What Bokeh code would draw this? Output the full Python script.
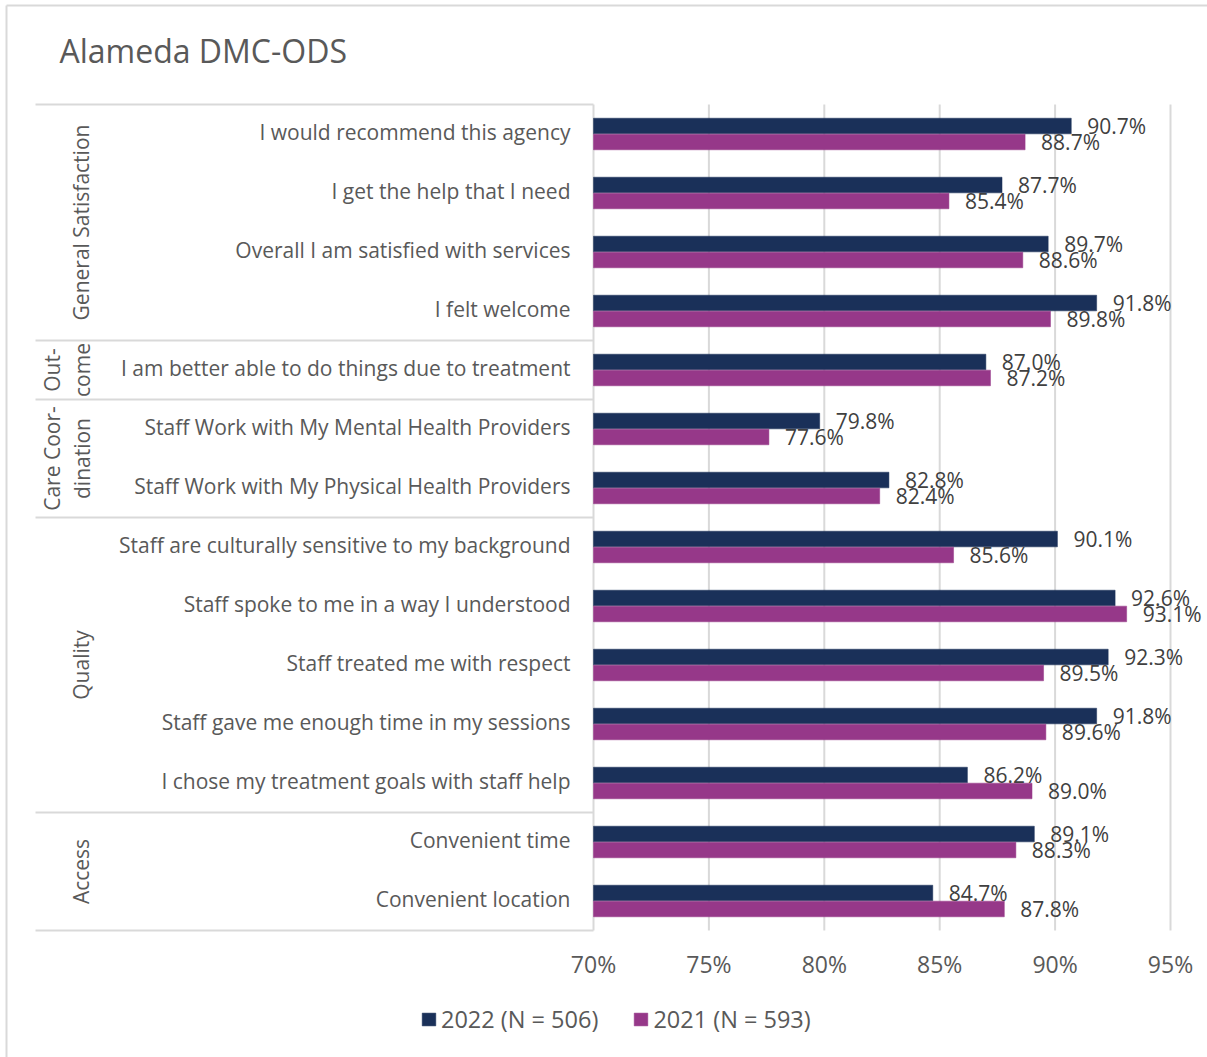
from math import pi
from bokeh.plotting import figure
from bokeh.models import ColumnDataSource, Range1d, Legend, LegendItem
from bokeh.core.properties import value
from bokeh.embed import file_html
from bokeh.resources import INLINE

# ---------------- data ----------------
TITLE = "Alameda DMC-ODS"
CATEGORIES = [
    "I would recommend this agency",
    "I get the help that I need",
    "Overall I am satisfied with services",
    "I felt welcome",
    "I am better able to do things due to treatment",
    "Staff Work with My Mental Health Providers",
    "Staff Work with My Physical Health Providers",
    "Staff are culturally sensitive to my background",
    "Staff spoke to me in a way I understood",
    "Staff treated me with respect",
    "Staff gave me enough time in my sessions",
    "I chose my treatment goals with staff help",
    "Convenient time",
    "Convenient location",
]
VALUES_2022 = [90.7, 87.7, 89.7, 91.8, 87.0, 79.8, 82.8, 90.1, 92.6, 92.3, 91.8, 86.2, 89.1, 84.7]
VALUES_2021 = [88.7, 85.4, 88.6, 89.8, 87.2, 77.6, 82.4, 85.6, 93.1, 89.5, 89.6, 89.0, 88.3, 87.8]
GROUP_LINES = [["General Satisfaction"], ["Out-", "come"], ["Care Coor-", "dination"], ["Quality"], ["Access"]]
GROUP_SIZES = [4, 1, 2, 5, 2]
SERIES_NAMES = ["2022 (N = 506)", "2021 (N = 593)"]
TICKS = [70, 75, 80, 85, 90, 95]

# ---------------- styling / layout ----------------
W, H = 1207, 1057
NAVY = "#1a3059"
MAGENTA = "#963889"
TEXT = "#595959"
LABEL_TEXT = "#404040"
LINE = "#d9d9d9"
FONT_NAME = "Open Sans"
FONT = value(FONT_NAME)

X0_PX, X1_PX = 593, 1170
XMIN, XMAX = TICKS[0], TICKS[-1]
XPP = (XMAX - XMIN) / (X1_PX - X0_PX)
TOP_PX, BOT_PX = 104, 930
N = len(CATEGORIES)
YPP = N / (BOT_PX - TOP_PX)


def px_x(px):
    return XMIN + (px - X0_PX) * XPP


def px_y(py):
    return N - (py - TOP_PX) * YPP


p = figure(width=W, height=H,
           x_range=Range1d(px_x(0), px_x(W)), y_range=Range1d(px_y(H), px_y(0)),
           output_backend="svg", toolbar_location=None,
           x_axis_location=None, y_axis_location=None, min_border=0,
           outline_line_color=None, background_fill_color="white",
           border_fill_color="white")
p.xgrid.visible = False
p.ygrid.visible = False

# outer border (top & left)
p.segment(x0=[px_x(6), px_x(6)], y0=[px_y(5), px_y(5)], x1=[px_x(W), px_x(6)], y1=[px_y(5), px_y(H)],
          line_color=LINE, line_width=2)

# title
p.text(x=[px_x(59)], y=[px_y(50)], text=[TITLE], text_font=FONT, text_font_size="32px",
       text_color=TEXT, text_align="left", text_baseline="middle")

# gridlines
grid_x = TICKS[1:]
p.segment(x0=grid_x, x1=grid_x, y0=[0] * len(grid_x), y1=[N] * len(grid_x),
          line_color=LINE, line_width=2)
# vertical axis line
p.segment(x0=[XMIN], x1=[XMIN], y0=[0], y1=[N], line_color=LINE, line_width=2)

# group separators and group labels
bounds = [N]
acc = N
for s in GROUP_SIZES:
    acc -= s
    bounds.append(acc)
p.segment(x0=[px_x(35)] * len(bounds), x1=[XMIN] * len(bounds), y0=bounds, y1=bounds,
          line_color=LINE, line_width=2)

gx, gy, gt = [], [], []
for lines, top, bot in zip(GROUP_LINES, bounds[:-1], bounds[1:]):
    mid = (top + bot) / 2
    if len(lines) == 1:
        xs = [80]
    else:
        xs = [51, 81]
    for ln, xp in zip(lines, xs):
        gx.append(px_x(xp))
        gy.append(mid)
        gt.append(ln)
p.text(x=gx, y=gy, text=gt, angle=pi / 2, text_font=FONT, text_font_size="21px",
       text_color=TEXT, text_align="center", text_baseline="middle")

# bars
centers = [N - i - 0.5 for i in range(N)]
OFF = 0.135
BAR_H = 0.265
src = ColumnDataSource(dict(
    cat=CATEGORIES,
    yc=centers,
    y22=[c + OFF for c in centers],
    y21=[c - OFF for c in centers],
    v22=VALUES_2022,
    v21=VALUES_2021,
    l22=[f"{v:.1f}%" for v in VALUES_2022],
    l21=[f"{v:.1f}%" for v in VALUES_2021],
))
r22 = p.hbar(y="y22", left=XMIN, right="v22", height=BAR_H, source=src,
             fill_color=NAVY, line_color=NAVY, line_width=0.5)
r21 = p.hbar(y="y21", left=XMIN, right="v21", height=BAR_H, source=src,
             fill_color=MAGENTA, line_color=MAGENTA, line_width=0.5)

# category labels
p.text(x=px_x(570), y="yc", text="cat", source=src, y_offset=-2, text_font=FONT,
       text_font_size="21px", text_color=TEXT, text_align="right", text_baseline="middle")

# data labels
p.text(x="v22", y="y22", text="l22", source=src, x_offset=16, text_font=FONT,
       text_font_size="21px", text_color=LABEL_TEXT, text_align="left", text_baseline="middle")
p.text(x="v21", y="y21", text="l21", source=src, x_offset=16, text_font=FONT,
       text_font_size="21px", text_color=LABEL_TEXT, text_align="left", text_baseline="middle")

# x tick labels
p.text(x=TICKS, y=[px_y(963)] * len(TICKS), text=[f"{t}%" for t in TICKS], text_font=FONT,
       text_font_size="23px", text_color=TEXT, text_align="center", text_baseline="middle")

# legend
legend = Legend(items=[LegendItem(label=SERIES_NAMES[0], renderers=[r22]),
                       LegendItem(label=SERIES_NAMES[1], renderers=[r21])],
                orientation="horizontal", location=(420, 1057 - 1021 - 14),
                glyph_width=17, glyph_height=16, label_standoff=4, spacing=34,
                padding=0, margin=0, border_line_color=None, background_fill_alpha=0,
                label_text_font=FONT_NAME, label_text_font_size="23.5px", label_text_color=TEXT,
                label_height=28)
p.add_layout(legend, "center")

open("out.html", "w").write(file_html(p, INLINE))
